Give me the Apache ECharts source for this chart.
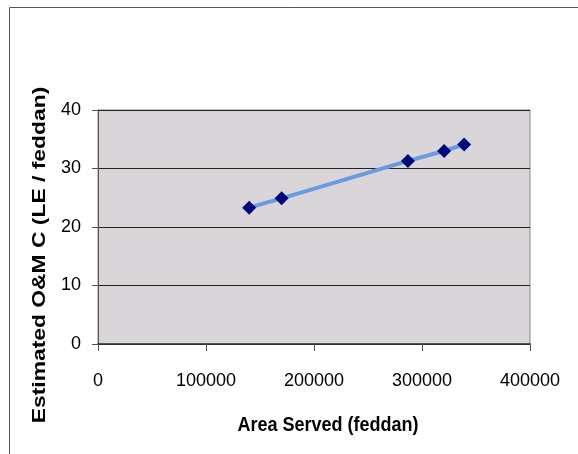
<!DOCTYPE html>
<html><head><meta charset="utf-8">
<script src="https://cdn.jsdelivr.net/npm/echarts@6/dist/echarts.min.js"></script>
<style>html,body{margin:0;padding:0;background:#fff}#c{width:578px;height:454px}</style>
</head><body><div id="c"></div>
<script>
const areaServed = [140000, 170000, 287000, 320500, 339000];
const omCost = [23.3, 24.9, 31.3, 33.0, 34.1];
const xTicks = [0, 100000, 200000, 300000, 400000];
const yTicks = [0, 10, 20, 30, 40];
const xTitle = 'Area Served (feddan)';
const yTitle = 'Estimated O&M C (LE / feddan)';

const chart = echarts.init(document.getElementById('c'));
const font = '"Liberation Sans", Arial, sans-serif';
chart.setOption({
  animation: false,
  backgroundColor: '#ffffff',
  grid: {left: 98, right: 48, top: 110, bottom: 110, show: true,
         backgroundColor: '#d9d5d9', borderColor: '#8a8a8a', borderWidth: 1},
  graphic: [
    {type: 'polyline', shape: {points: [[9.5, 454], [9.5, 7.5], [578, 7.5]]},
     style: {stroke: '#555', lineWidth: 1, fill: null}, silent: true},
    {type: 'text', x: 328, y: 425, scaleY: 1.15,
     style: {text: xTitle, x: 0, y: 0, align: 'center', verticalAlign: 'middle',
      font: 'bold 18px ' + font, fill: '#000'}},
    {type: 'text', rotation: Math.PI / 2, x: 40, y: 255, scaleX: 1.27,
     style: {text: yTitle, x: 0, y: 0, align: 'center', verticalAlign: 'middle',
      font: 'bold 18px ' + font, fill: '#000'}}
  ],
  xAxis: {
    type: 'value', min: xTicks[0], max: xTicks[xTicks.length - 1], interval: 100000,
    axisLine: {show: true, lineStyle: {color: '#333', width: 1.5}},
    axisTick: {show: true, length: 7, lineStyle: {color: '#555'}},
    axisLabel: {margin: 28, fontSize: 18, fontFamily: font, color: '#000',
      formatter: v => String(v)},
    splitLine: {show: false}
  },
  yAxis: {
    type: 'value', min: yTicks[0], max: yTicks[yTicks.length - 1], interval: 10,
    axisLine: {show: true, lineStyle: {color: '#555', width: 1}},
    axisTick: {show: true, length: 6, lineStyle: {color: '#555'}},
    axisLabel: {margin: 17, fontSize: 18, fontFamily: font, color: '#000',
      formatter: v => String(v)},
    splitLine: {show: true, lineStyle: {color: '#222', width: 1}}
  },
  series: [{
    type: 'line',
    data: areaServed.map((x, i) => [x, omCost[i]]),
    lineStyle: {color: '#6a9ae0', width: 4},
    symbol: 'diamond', symbolSize: 14,
    itemStyle: {color: '#000a7a'},
    z: 5
  }]
});
</script></body></html>
